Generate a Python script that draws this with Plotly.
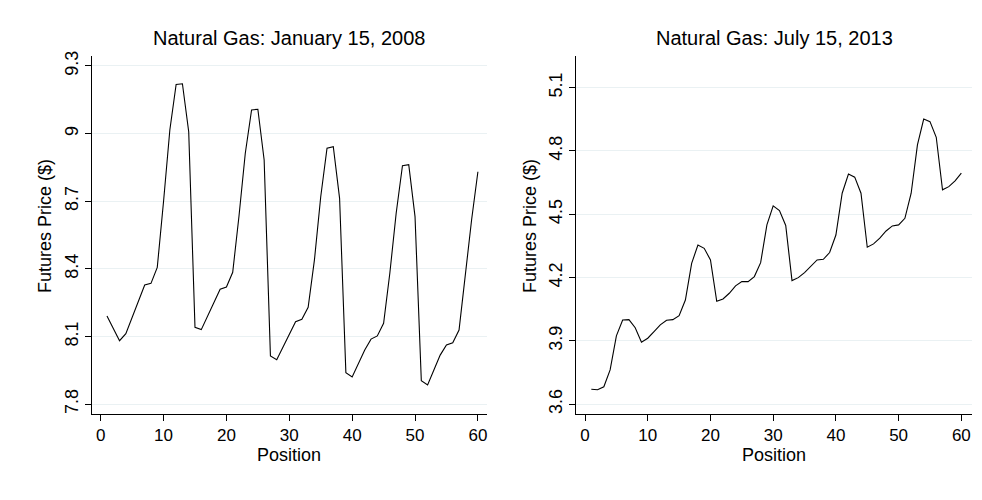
import plotly.graph_objects as go

positions = list(range(1, 61))

jan2008_prices = [
    8.191, 8.135, 8.082, 8.113, 8.186, 8.257, 8.329, 8.336, 8.407, 8.700,
    9.016, 9.218, 9.221, 9.008, 8.141, 8.131, 8.191, 8.255, 8.310, 8.320,
    8.385, 8.635, 8.913, 9.105, 9.108, 8.883, 8.014, 7.998, 8.055, 8.115,
    8.166, 8.177, 8.230, 8.440, 8.720, 8.935, 8.942, 8.713, 7.940, 7.921,
    7.982, 8.041, 8.089, 8.103, 8.159, 8.383, 8.647, 8.858, 8.862, 8.632,
    7.905, 7.886, 7.952, 8.018, 8.063, 8.073, 8.129, 8.378, 8.618, 8.831,
]

jul2013_prices = [
    3.671, 3.669, 3.683, 3.763, 3.924, 3.999, 4.001, 3.963, 3.894, 3.913,
    3.944, 3.976, 3.998, 4.001, 4.020, 4.094, 4.268, 4.354, 4.339, 4.284,
    4.088, 4.099, 4.126, 4.161, 4.181, 4.181, 4.205, 4.271, 4.450, 4.540,
    4.518, 4.447, 4.186, 4.200, 4.224, 4.255, 4.284, 4.287, 4.319, 4.402,
    4.600, 4.691, 4.676, 4.600, 4.344, 4.360, 4.387, 4.421, 4.445, 4.450,
    4.481, 4.600, 4.829, 4.951, 4.939, 4.865, 4.616, 4.631, 4.658, 4.695,
]

x_ticks = [0, 10, 20, 30, 40, 50, 60]
left_y_ticks = [7.8, 8.1, 8.4, 8.7, 9.0, 9.3]
left_y_labels = ["7.8", "8.1", "8.4", "8.7", "9", "9.3"]
right_y_ticks = [3.6, 3.9, 4.2, 4.5, 4.8, 5.1]
right_y_labels = ["3.6", "3.9", "4.2", "4.5", "4.8", "5.1"]

titles = ["Natural Gas: January 15, 2008", "Natural Gas: July 15, 2013"]
x_title = "Position"
y_title = "Futures Price ($)"

FONT = "Liberation Sans, Arial, Helvetica, sans-serif"
W, H = 982, 500
GRID = "#eaf1f3"
OFF = 8  # the page body margin shifts the figure by this many pixels

fig = go.Figure()
fig.add_trace(go.Scatter(x=positions, y=jan2008_prices, mode="lines",
                         line=dict(color="black", width=1.1),
                         xaxis="x", yaxis="y", showlegend=False))
fig.add_trace(go.Scatter(x=positions, y=jul2013_prices, mode="lines",
                         line=dict(color="black", width=1.1),
                         xaxis="x2", yaxis="y2", showlegend=False))

def px_x(p):
    return (p - OFF) / W

def px_y(p):
    return 1 - (p - OFF) / H

L0, L1 = 91.7, 486.7
R0, R1 = 576, 972
T, B = 56, 414

left_dom = [px_x(L0), px_x(L1)]
right_dom = [px_x(R0), px_x(R1)]
y_dom = [px_y(B), px_y(T)]

common_x = dict(tickvals=x_ticks, ticks="outside", ticklen=6, tickwidth=1,
                tickcolor="black", showline=True, linecolor="black", linewidth=1,
                showgrid=False, zeroline=False, automargin=False,
                tickfont=dict(family=FONT, size=17, color="black"))
common_y = dict(ticks="outside", ticklen=6, tickwidth=1, tickcolor="black",
                showline=True, linecolor="black", linewidth=1,
                showgrid=True, gridcolor=GRID, gridwidth=1, zeroline=False,
                tickangle=-90, domain=y_dom, automargin=False,
                tickfont=dict(family=FONT, size=18, color="black"))

fig.update_layout(
    width=W, height=H,
    margin=dict(l=0, r=0, t=0, b=0, autoexpand=False),
    paper_bgcolor="white", plot_bgcolor="white",
    font=dict(family=FONT, color="black"),
    xaxis=dict(domain=left_dom, anchor="y", range=[-1.43, 61.4], **common_x),
    yaxis=dict(anchor="x", range=[7.757, 9.344], tickvals=left_y_ticks,
               ticktext=left_y_labels, **common_y),
    xaxis2=dict(domain=right_dom, anchor="y2", range=[-1.44, 61.7], **common_x),
    yaxis2=dict(anchor="x2", range=[3.554, 5.25], tickvals=right_y_ticks,
                ticktext=right_y_labels, **common_y),
)

ann = []
for cx, t in [((L0 + L1) / 2, titles[0]), ((R0 + R1) / 2, titles[1])]:
    ann.append(dict(x=px_x(cx), y=px_y(38), xref="paper", yref="paper",
                    text=t, showarrow=False, xanchor="center", yanchor="middle",
                    font=dict(family=FONT, size=20, color="black")))
for cx in [(L0 + L1) / 2, (R0 + R1) / 2]:
    ann.append(dict(x=px_x(cx), y=px_y(455), xref="paper", yref="paper",
                    text=x_title, showarrow=False, xanchor="center", yanchor="middle",
                    font=dict(family=FONT, size=18, color="black")))
for cx in [45, 530]:
    ann.append(dict(x=px_x(cx), y=px_y(226), xref="paper", yref="paper",
                    text=y_title, showarrow=False, textangle=-90,
                    xanchor="center", yanchor="middle",
                    font=dict(family=FONT, size=18, color="black")))
fig.update_layout(annotations=ann)

fig.write_html("out.html")
